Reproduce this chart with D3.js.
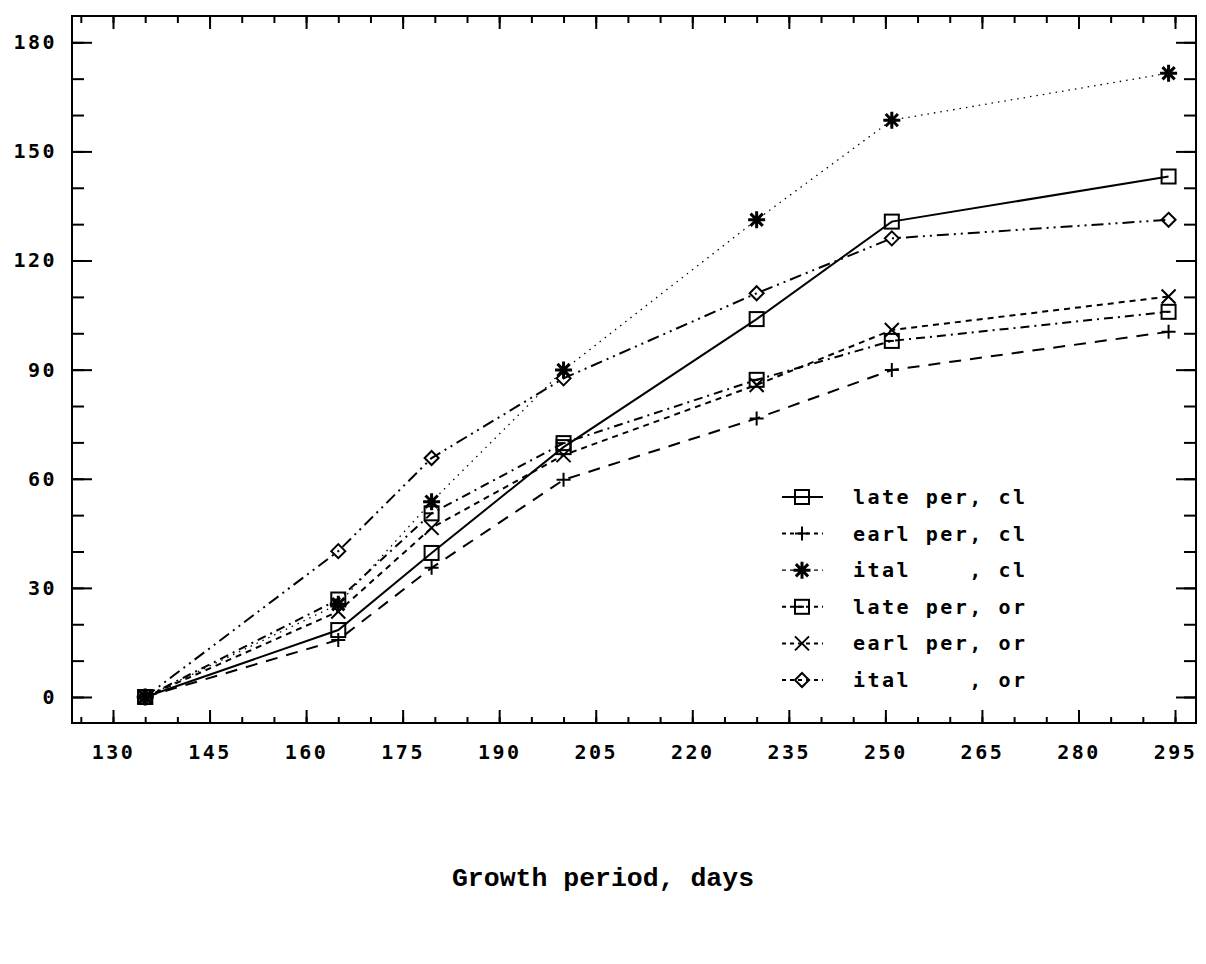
<!DOCTYPE html>
<html lang="en">
<head>
<meta charset="UTF-8">
<title>Growth period chart</title>
<style>
  body { margin: 0; background: #fff; }
  .tick text { font-family: "DejaVu Sans Mono", monospace; font-weight: bold; font-size: 20px; letter-spacing: 2.5px; fill: #000; }
  .tick line { stroke: #000; stroke-width: 2px; }
  .legend text { font-family: "DejaVu Sans Mono", monospace; font-weight: bold; font-size: 20px; letter-spacing: 2.5px; }
  .title { font-family: "Liberation Mono", monospace; font-weight: bold; font-size: 26.5px; }
</style>
</head>
<body>
<svg width="1206" height="964"></svg>
<script src="https://d3js.org/d3.v7.min.js"></script>
<script>
// values
const days = [135, 165, 179.5, 200, 230, 251, 294];
const latePerCl = [0, 18.4, 39.6, 68.7, 103.9, 130.7, 143.1];
const earlPerCl = [0, 15.7, 35.5, 59.7, 76.6, 89.9, 100.4];
const italCl    = [0, 25.5, 53.7, 89.9, 131.2, 158.6, 171.5];
const latePerOr = [0, 26.8, 50.5, 69.8, 87.2, 97.9, 105.9];
const earlPerOr = [0, 23.5, 46.5, 66.5, 85.8, 100.9, 110.1];
const italOr    = [0, 40.1, 65.7, 87.6, 111.0, 126.1, 131.2];

const seriesNames = ["late per, cl", "earl per, cl", "ital    , cl", "late per, or", "earl per, or", "ital    , or"];
const xMajor = d3.range(130, 296, 15);
const xMinor = d3.range(125, 299, 5);
const yMajor = d3.range(0, 181, 30);
const yMinor = d3.range(0, 181, 10);

const series = [
  { name: seriesNames[0], values: latePerCl, dash: null,             width: 2,   marker: "square" },
  { name: seriesNames[1], values: earlPerCl, dash: "12,9",           width: 2,   marker: "plus" },
  { name: seriesNames[2], values: italCl,    dash: "1.5,5",          width: 1.3, marker: "star" },
  { name: seriesNames[3], values: latePerOr, dash: "9,5,2,5",        width: 2,   marker: "squareBar" },
  { name: seriesNames[4], values: earlPerOr, dash: "6,5",            width: 2,   marker: "cross" },
  { name: seriesNames[5], values: italOr,    dash: "12,5,2,5,2,5",   width: 2,   marker: "diamond" }
];

const plotL = 72, plotR = 1196, plotT = 16, plotB = 723;

const x = d3.scaleLinear().domain([123.63, 298.26]).range([plotL, plotR]);
const y = d3.scaleLinear().domain([-7.15, 187.23]).range([plotB, plotT]);

const svg = d3.select("svg");

// frame
svg.append("rect")
  .attr("x", plotL).attr("y", plotT)
  .attr("width", plotR - plotL).attr("height", plotB - plotT)
  .attr("fill", "none").attr("stroke", "#000").attr("stroke-width", 2);

// axes, ticks pointing inward
function axis(gen, tx, ty) {
  const g = svg.append("g").attr("transform", `translate(${tx},${ty})`).call(gen);
  g.select(".domain").remove();
  return g;
}
axis(d3.axisBottom(x).tickValues(xMinor).tickSize(-6).tickFormat(""), 0, plotB);
axis(d3.axisBottom(x).tickValues(xMajor).tickSize(-13).tickPadding(22).tickFormat(d3.format("d")), 0, plotB);
axis(d3.axisTop(x).tickValues(xMinor).tickSize(-7).tickFormat(""), 0, plotT);
axis(d3.axisTop(x).tickValues(xMajor).tickSize(-13).tickFormat(""), 0, plotT);
axis(d3.axisLeft(y).tickValues(yMinor).tickSize(-12).tickFormat(""), plotL, 0);
axis(d3.axisLeft(y).tickValues(yMajor).tickSize(-20).tickPadding(15).tickFormat(d3.format("d")), plotL, 0);
axis(d3.axisRight(y).tickValues(yMinor).tickSize(-12).tickFormat(""), plotR, 0);
axis(d3.axisRight(y).tickValues(yMajor).tickSize(-20).tickFormat(""), plotR, 0);

// marker shapes
function drawMarker(g, type) {
  const s = 7;
  const st = { fill: "none", stroke: "#000", "stroke-width": 2 };
  const add = (tag, attrs) => {
    const el = g.append(tag);
    Object.entries(Object.assign({}, st, attrs)).forEach(([k, v]) => el.attr(k, v));
    return el;
  };
  if (type === "square") {
    add("rect", { x: -s, y: -s, width: 2 * s, height: 2 * s });
  } else if (type === "squareBar") {
    add("rect", { x: -s, y: -s, width: 2 * s, height: 2 * s });
    add("line", { x1: -s, x2: 2, y1: 0, y2: 0 });
  } else if (type === "plus") {
    add("path", { d: `M${-s},0H${s}M0,${-s}V${s}` });
  } else if (type === "cross") {
    add("path", { d: `M${-s},${-s}L${s},${s}M${-s},${s}L${s},${-s}` });
  } else if (type === "star") {
    const r = 8.5, q = r * 0.72;
    add("path", { d: `M${-r},0H${r}M0,${-r}V${r}M${-q},${-q}L${q},${q}M${-q},${q}L${q},${-q}`, "stroke-width": 3 });
  } else if (type === "diamond") {
    add("path", { d: `M0,${-s}L${s},0L0,${s}L${-s},0Z` });
  }
}

const line = d3.line().x(d => x(d[0])).y(d => y(d[1]));

series.forEach(sr => {
  const pts = days.map((d, i) => [d, sr.values[i]]);
  svg.append("path")
    .datum(pts)
    .attr("d", line)
    .attr("fill", "none")
    .attr("stroke", "#000")
    .attr("stroke-width", sr.width)
    .attr("stroke-dasharray", sr.dash);
  svg.append("g").selectAll("g")
    .data(pts)
    .join("g")
    .attr("transform", d => `translate(${x(d[0])},${y(d[1])})`)
    .each(function () { drawMarker(d3.select(this), sr.marker); });
});

// legend
const legend = svg.append("g").attr("class", "legend").attr("transform", "translate(782,497)");
series.forEach((sr, i) => {
  const row = legend.append("g").attr("transform", `translate(0,${i * 36.6})`);
  row.append("line")
    .attr("x1", 0).attr("x2", 41).attr("y1", 0).attr("y2", 0)
    .attr("stroke", "#000").attr("stroke-width", sr.width)
    .attr("stroke-dasharray", sr.dash ? "4,4" : null);
  drawMarker(row.append("g").attr("transform", "translate(20,0)"), sr.marker);
  row.append("text")
    .attr("x", 71).attr("y", 0).attr("dy", "0.35em")
    .attr("xml:space", "preserve")
    .style("white-space", "pre")
    .text(sr.name);
});

// x axis title
svg.append("text")
  .attr("class", "title")
  .attr("x", 603).attr("y", 886)
  .attr("text-anchor", "middle")
  .text("Growth period, days");
</script>
</body>
</html>
